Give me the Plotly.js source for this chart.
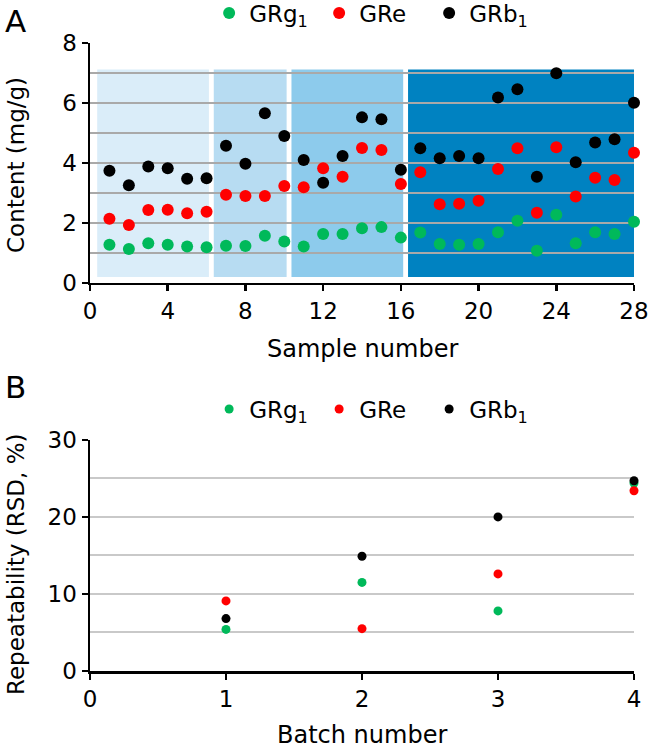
<!DOCTYPE html>
<html>
<head>
<meta charset="utf-8">
<script src="https://cdn.plot.ly/plotly-3.0.1.min.js"></script>
<style>
  body { margin: 0; background: #fff; }
  #chart { width: 650px; height: 748px; }
</style>
</head>
<body>
<div id="chart"></div>
<script>
// Panel A: content of each sample
const samples = [1, 2, 3, 4, 5, 6, 7, 8, 9, 10, 11, 12, 13, 14, 15, 16, 17, 18, 19, 20, 21, 22, 23, 24, 25, 26, 27, 28];
const sampleBatch = [1, 1, 1, 1, 1, 1, 2, 2, 2, 2, 3, 3, 3, 3, 3, 3, 4, 4, 4, 4, 4, 4, 4, 4, 4, 4, 4, 4];
const grg1 = [1.27, 1.13, 1.32, 1.27, 1.21, 1.19, 1.24, 1.23, 1.57, 1.38, 1.21, 1.63, 1.63, 1.82, 1.86, 1.51,
              1.68, 1.30, 1.27, 1.30, 1.69, 2.07, 1.07, 2.27, 1.32, 1.69, 1.63, 2.04];
const gre = [2.14, 1.93, 2.43, 2.44, 2.32, 2.37, 2.94, 2.90, 2.90, 3.23, 3.19, 3.82, 3.54, 4.50, 4.43, 3.30,
             3.69, 2.62, 2.64, 2.74, 3.80, 4.49, 2.34, 4.52, 2.88, 3.51, 3.43, 4.34];
const grb1 = [3.74, 3.26, 3.88, 3.82, 3.47, 3.49, 4.57, 3.97, 5.66, 4.90, 4.10, 3.34, 4.23, 5.52, 5.46, 3.77,
              4.49, 4.16, 4.23, 4.16, 6.18, 6.46, 3.54, 6.99, 4.02, 4.68, 4.79, 6.01];

// Panel B: repeatability per batch
const batches = [1, 2, 3, 4];
const rsdGrg1 = [5.4, 11.5, 7.8, 24.4];
const rsdGre = [9.1, 5.5, 12.6, 23.4];
const rsdGrb1 = [6.8, 14.9, 20.0, 24.7];

const names = ['GRg<sub>1</sub>', 'GRe', 'GRb<sub>1</sub>'];
const colors = ['#00b95a', '#ff0000', '#000000'];
const blockColors = ['#daedf9', '#b7dcf2', '#8dcbec', '#0082c1'];

const fontFamily = 'DejaVu Sans, sans-serif';
const font = { family: fontFamily, size: 23, color: '#000' };
const titleFont = { family: fontFamily, size: 24, color: '#000' };

// batch blocks behind panel A
const shapes = [];
[1, 2, 3, 4].forEach((b, i) => {
    const xs = samples.filter((s, j) => sampleBatch[j] === b);
    shapes.push({
        type: 'rect', xref: 'x', yref: 'y', layer: 'below',
        x0: xs[0] - 0.63, x1: xs[xs.length - 1] + 0.12,
        y0: 0.2, y1: 7.12,
        fillcolor: blockColors[i], line: { width: 0 }
    });
});

const seriesA = [grg1, gre, grb1];
const seriesB = [rsdGrg1, rsdGre, rsdGrb1];
const traces = [];
seriesA.forEach((ys, i) => {
    traces.push({
        x: samples, y: ys, xaxis: 'x', yaxis: 'y',
        type: 'scatter', mode: 'markers', name: names[i],
        marker: { color: colors[i], size: 12 },
        cliponaxis: false, legend: 'legend'
    });
});
seriesB.forEach((ys, i) => {
    traces.push({
        x: batches, y: ys, xaxis: 'x2', yaxis: 'y2',
        type: 'scatter', mode: 'markers', name: names[i],
        marker: { color: colors[i], size: 9 },
        cliponaxis: false, legend: 'legend2'
    });
});

const axisBase = {
    ticks: 'outside', ticklen: 6, tickwidth: 2.5, tickcolor: '#000',
    showline: true, linewidth: 2.5, linecolor: '#000',
    zeroline: false, tickfont: font
};

const legendBase = {
    orientation: 'h', xref: 'paper', yref: 'container',
    xanchor: 'left', yanchor: 'middle', font: font, bgcolor: 'rgba(0,0,0,0)',
    entrywidth: 65, entrywidthmode: 'pixels'
};

// plot area spans x 90..634 px and y 43..671 px; paper coords for text
const px = (x) => (x - 90) / 544;
const py = (y) => (671 - y) / 628;

function label(text, x, y, size, angle) {
    return {
        text: text, xref: 'paper', yref: 'paper', x: px(x), y: py(y),
        xanchor: 'center', yanchor: 'middle', showarrow: false, textangle: angle || 0,
        font: { family: fontFamily, size: size, color: '#000' }
    };
}

const layout = {
    width: 650, height: 748,
    margin: { l: 90, r: 16, t: 43, b: 77, autoexpand: false },
    paper_bgcolor: '#fff', plot_bgcolor: 'rgba(0,0,0,0)',
    font: font,
    showlegend: true,
    xaxis: Object.assign({}, axisBase, {
        domain: [0, 1], anchor: 'y', range: [0, 28], tick0: 0, dtick: 4, showgrid: false
    }),
    yaxis: Object.assign({}, axisBase, {
        domain: [0.618, 1], anchor: 'x', range: [0, 8], tick0: 0, dtick: 2,
        showgrid: true, gridcolor: '#a9a9a9', gridwidth: 2,
        minor: { dtick: 1, showgrid: true, gridcolor: '#a9a9a9', gridwidth: 2 }
    }),
    xaxis2: Object.assign({}, axisBase, {
        domain: [0, 1], anchor: 'y2', range: [0, 4], tick0: 0, dtick: 1, showgrid: false
    }),
    yaxis2: Object.assign({}, axisBase, {
        domain: [0, 0.368], anchor: 'x2', range: [0, 30], tick0: 0, dtick: 10,
        showgrid: true, gridcolor: '#c9c9c9', gridwidth: 2,
        minor: { dtick: 5, showgrid: true, gridcolor: '#c9c9c9', gridwidth: 2 }
    }),
    legend: Object.assign({}, legendBase, { x: 0.219, y: 1 - 13 / 748 }),
    legend2: Object.assign({}, legendBase, { x: 0.219, y: 1 - 409 / 748 }),
    shapes: shapes,
    annotations: [
        label('A', 15, 21, 31),
        label('B', 15, 387, 31),
        label('Sample number', 362, 349, 24),
        label('Batch number', 362, 735, 24),
        label('Content (mg/g)', 16, 165, 23, -90),
        label('Repeatability (RSD, %)', 16, 565, 23, -90)
    ]
};

Plotly.newPlot('chart', traces, layout, { displayModeBar: false, staticPlot: true });
</script>
</body>
</html>
